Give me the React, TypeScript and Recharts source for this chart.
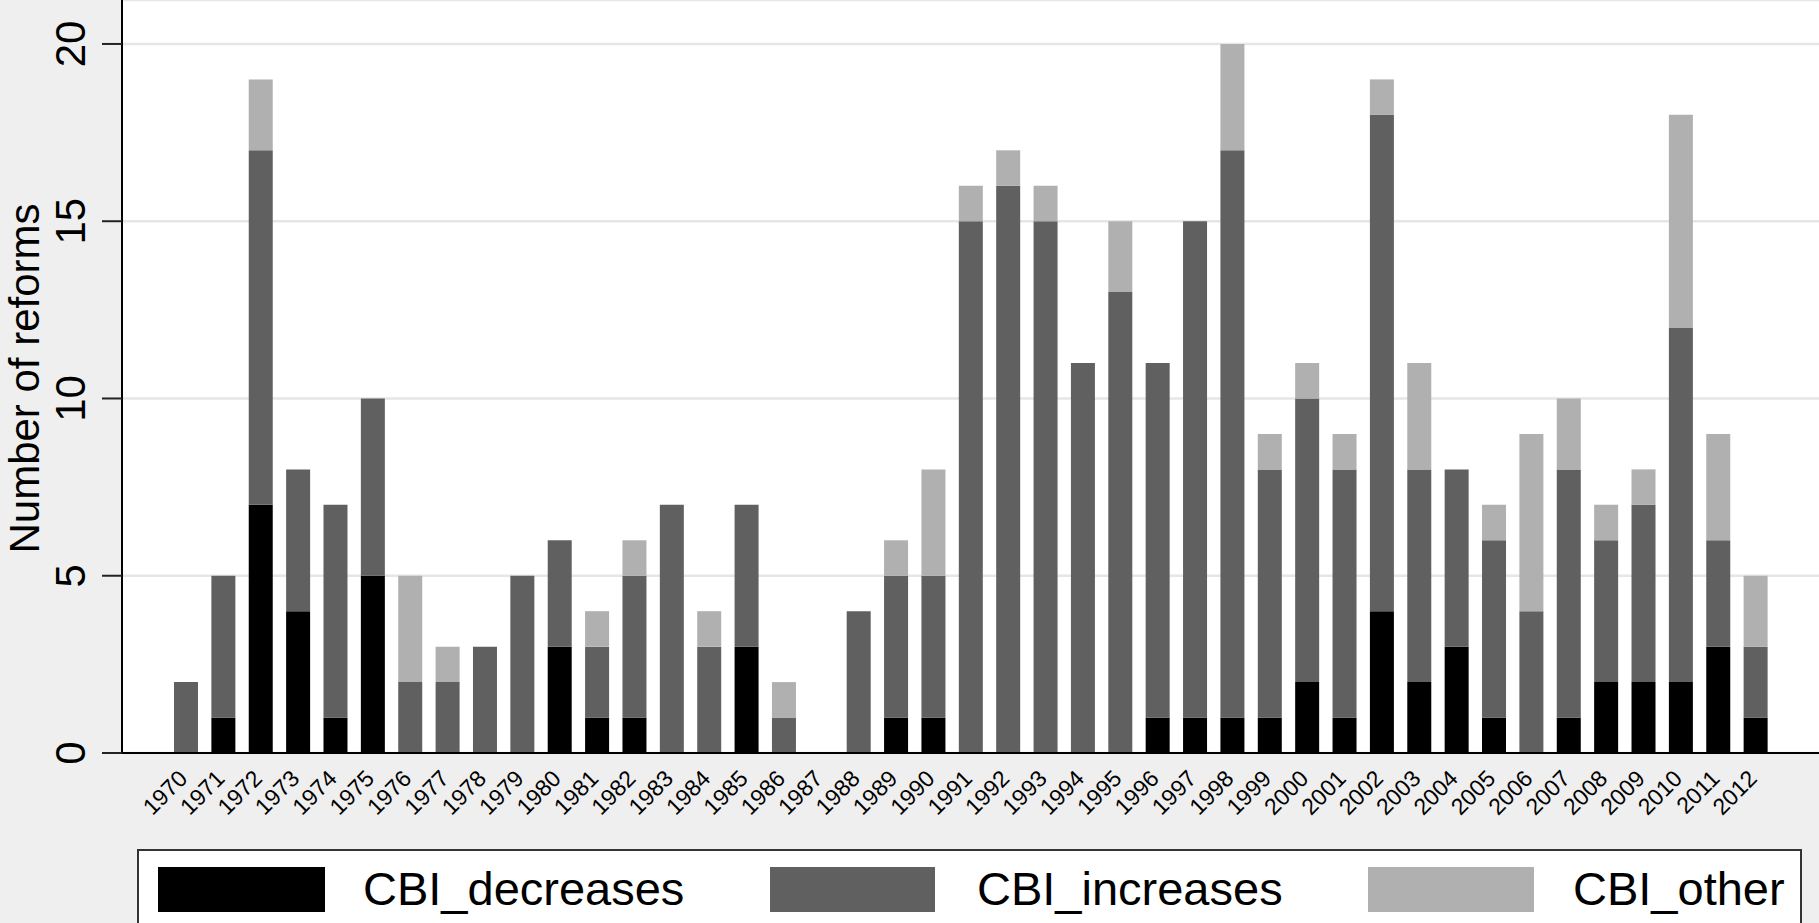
import React from 'react';
import { BarChart, Bar, XAxis, YAxis, CartesianGrid, Legend, Label } from 'recharts';

const years = [
    '1970', '1971', '1972', '1973', '1974', '1975', '1976', '1977', '1978', '1979',
    '1980', '1981', '1982', '1983', '1984', '1985', '1986', '1987', '1988', '1989',
    '1990', '1991', '1992', '1993', '1994', '1995', '1996', '1997', '1998', '1999',
    '2000', '2001', '2002', '2003', '2004', '2005', '2006', '2007', '2008', '2009',
    '2010', '2011', '2012',
];
const cbiDecreases = [0, 1, 7, 4, 1, 5, 0, 0, 0, 0, 3, 1, 1, 0, 0, 3, 0, 0, 0, 1, 1, 0, 0, 0, 0, 0, 1, 1, 1, 1, 2, 1, 4, 2, 3, 1, 0, 1, 2, 2, 2, 3, 1];
const cbiIncreases = [2, 4, 10, 4, 6, 5, 2, 2, 3, 5, 3, 2, 4, 7, 3, 4, 1, 0, 4, 4, 4, 15, 16, 15, 11, 13, 10, 14, 16, 7, 8, 7, 14, 6, 5, 5, 4, 7, 4, 5, 10, 3, 2];
const cbiOther = [0, 0, 2, 0, 0, 0, 3, 1, 0, 0, 0, 1, 1, 0, 1, 0, 1, 0, 0, 1, 3, 1, 1, 1, 0, 2, 0, 0, 3, 1, 1, 1, 1, 3, 0, 1, 5, 2, 1, 1, 6, 3, 2];
const yTicks = [0, 5, 10, 15, 20];

const seriesInfo = [
    { key: 'CBI_decreases', color: '#000000' },
    { key: 'CBI_increases', color: '#606060' },
    { key: 'CBI_other', color: '#b0b0b0' },
];

const data = years.map((year, i) => ({
    year,
    CBI_decreases: cbiDecreases[i],
    CBI_increases: cbiIncreases[i],
    CBI_other: cbiOther[i],
}));

const FONT = '"Liberation Sans", Arial, Helvetica, sans-serif';

const XTick = (props: any) => {
    const { x, y, payload } = props;
    return (
        <text
            transform={`translate(${x + 3}, ${y + 27}) rotate(-45)`}
            textAnchor="end"
            fontSize={23}
            fontFamily={FONT}
            fill="#000"
        >
            {payload.value}
        </text>
    );
};

const YTick = (props: any) => {
    const { x, y, payload } = props;
    return (
        <text
            transform={`translate(${x - 17}, ${y}) rotate(-90)`}
            textAnchor="middle"
            fontSize={42}
            fontFamily={FONT}
            fill="#000"
        >
            {payload.value}
        </text>
    );
};

const YTitle = (props: any) => {
    const vb = props.viewBox || { y: 0, height: 753 };
    const cy = vb.y + vb.height / 2;
    return (
        <text
            transform={`translate(39, ${cy + 2}) rotate(-90)`}
            textAnchor="middle"
            fontSize={42}
            fontFamily={FONT}
            fill="#000"
        >
            Number of reforms
        </text>
    );
};

// legend box, positions relative to its wrapper (left 137, top 849)
const legendPos = [
    { swatchX: 21, swatchW: 167, textX: 226 },
    { swatchX: 633, swatchW: 165, textX: 840 },
    { swatchX: 1231, swatchW: 166, textX: 1436 },
];

const LegendBox = () => (
    <svg width={1665} height={74} style={{ display: 'block' }}>
        <rect x={1} y={1} width={1663} height={120} fill="#fff" stroke="#333" strokeWidth={2} />
        {seriesInfo.map((s, i) => (
            <g key={s.key}>
                <rect x={legendPos[i].swatchX} y={18} width={legendPos[i].swatchW} height={45} fill={s.color} />
                <text x={legendPos[i].textX} y={56} fontSize={47} fontFamily={FONT} fill="#000">
                    {s.key}
                </text>
            </g>
        ))}
    </svg>
);

export default function App() {
    return (
        <div style={{ width: 1819, height: 923, overflow: 'hidden', background: '#efefef', position: 'relative' }}>
            <style>{'body{margin:0;overflow:hidden;}'}</style>
            <BarChart
                width={1819}
                height={923}
                data={data}
                margin={{ top: 0, right: 0, left: 0, bottom: 0 }}
                barSize={24}
            >
                <CartesianGrid vertical={false} fill="#ffffff" stroke="#e6e6e6" strokeWidth={2.5} />
                <XAxis
                    dataKey="year"
                    interval={0}
                    height={170}
                    padding={{ left: 45, right: 45 }}
                    tickLine={false}
                    tickSize={0}
                    tickMargin={0}
                    axisLine={{ stroke: '#000', strokeWidth: 2 }}
                    tick={<XTick />}
                />
                <YAxis
                    width={122}
                    domain={[0, 21.24]}
                    ticks={yTicks}
                    allowDataOverflow
                    tickSize={20}
                    tickMargin={0}
                    tickLine={{ stroke: '#222', strokeWidth: 2 }}
                    axisLine={{ stroke: '#000', strokeWidth: 2 }}
                    tick={<YTick />}
                >
                    <Label content={<YTitle />} />
                </YAxis>
                <Legend
                    layout="horizontal"
                    verticalAlign="middle"
                    align="center"
                    wrapperStyle={{ left: 137, top: 849, width: 1665, height: 74 }}
                    content={<LegendBox />}
                />
                {seriesInfo.map(s => (
                    <Bar key={s.key} dataKey={s.key} stackId="a" fill={s.color} isAnimationActive={false} />
                ))}
            </BarChart>
        </div>
    );
}
